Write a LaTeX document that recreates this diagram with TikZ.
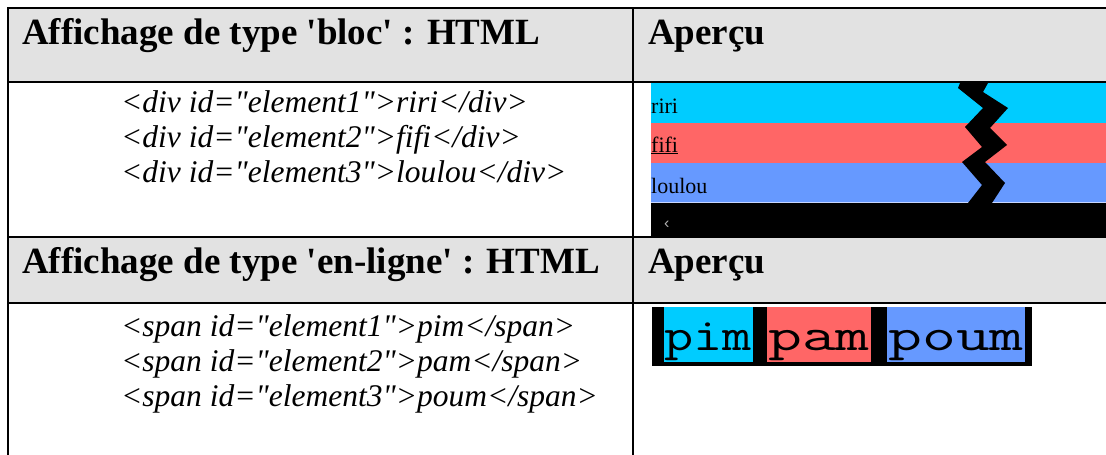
\documentclass[tikz,border=0pt]{standalone}
\usepackage{fontspec}
\setmainfont{Liberation Serif}[Ligatures=TeXOff]
\newfontfamily\pixsans{Liberation Sans}
\definecolor{hdrgray}{RGB}{226,226,226}
\definecolor{boxcyan}{RGB}{0,204,255}
\definecolor{boxred}{RGB}{255,102,102}
\definecolor{boxblue}{RGB}{102,153,255}
\definecolor{seamblue}{RGB}{200,215,255}
\tikzset{
  rule/.style={line width=2pt, line cap=rect},
  hdrtext/.style={anchor=base west, inner sep=0pt, font=\fontsize{37}{40}\selectfont\bfseries},
  codetext/.style={anchor=base west, inner sep=0pt, font=\fontsize{31.5}{35}\selectfont\itshape},
  blocktext/.style={anchor=base west, inner sep=0pt, font=\fontsize{22}{24}\selectfont},
  inlinetext/.style={anchor=base, inner sep=0pt, font=\fontsize{46}{48}\selectfont\ttfamily},
}
\begin{document}
\begin{tikzpicture}[x=1pt, y=-1pt]
\useasboundingbox (0,0) rectangle (1106,455);
\fill[white] (0,0) rectangle (1106,455);

% header rows
\fill[hdrgray] (8,8) rectangle (1106,82);
\fill[hdrgray] (8,237) rectangle (1106,303);

% block preview: three coloured bands, the scroll bar, and the break mark
\fill[boxcyan] (651,83) rectangle (1106,123);
\fill[boxred]  (651,123) rectangle (1106,163);
\fill[boxblue] (651,163) rectangle (1106,202);
\fill[seamblue] (651,202) rectangle (1106,203);
\fill[black] (651,203) rectangle (1106,237);
\fill[black] (960,83) -- (958,88) -- (983,108) -- (965,127) -- (982,147) -- (962,162)
  -- (982,185) -- (968,203) -- (992,203) -- (1005,183) -- (985,162) -- (1007,145)
  -- (990,128) -- (1008,108) -- (983,92) -- (988,83) -- cycle;
\node[blocktext] (riri) at (651,113) {riri};
\node[blocktext] (fifi) at (651,152) {fifi};
\draw[line width=0.8pt] ([yshift=-1.5pt]fifi.base west) -- ([yshift=-1.5pt]fifi.base east);
\node[blocktext] (loulou) at (651,193) {loulou};
\node[anchor=base west, inner sep=0pt, text=gray!60, font=\fontsize{16}{18}\selectfont\pixsans] (scroll) at (664,228) {‹};

% inline preview
\fill[black] (652,307) rectangle (1032,366);
\fill[boxcyan] (664,307) rectangle (753,362);
\fill[boxred]  (767,307) rectangle (871,362);
\fill[boxblue] (887,307) rectangle (1025,362);
\node[inlinetext] (pim) at (708,350) {\scalebox{1.23}[1]{pim}};
\node[inlinetext] (pam) at (819,350) {\scalebox{1.43}[1]{pam}};
\node[inlinetext] (poum) at (956,350) {\scalebox{1.43}[1]{poum}};

% table rules
\draw[rule] (8,455) -- (8,8) -- (1106,8);
\draw[rule] (8,82) -- (1106,82);
\draw[rule] (8,237) -- (1106,237);
\draw[rule] (8,303) -- (1106,303);
\draw[rule] (633,8) -- (633,455);

% headings
\node[hdrtext] (h1) at (22,44) {Affichage de type 'bloc' : HTML};
\node[hdrtext] (a1) at (648,44) {Aperçu};
\node[hdrtext] (h2) at (22,273) {Affichage de type 'en-ligne' : HTML};
\node[hdrtext] (a2) at (648,273) {Aperçu};

% source code
\node[codetext] (d1) at (121,112) {<div id="element1">riri</div>};
\node[codetext] (d2) at (121,147) {<div id="element2">fifi</div>};
\node[codetext] (d3) at (121,182) {<div id="element3">loulou</div>};
\node[codetext] (s1) at (121,336) {<span id="element1">pim</span>};
\node[codetext] (s2) at (121,371) {<span id="element2">pam</span>};
\node[codetext] (s3) at (121,406) {<span id="element3">poum</span>};
\end{tikzpicture}
\end{document}
